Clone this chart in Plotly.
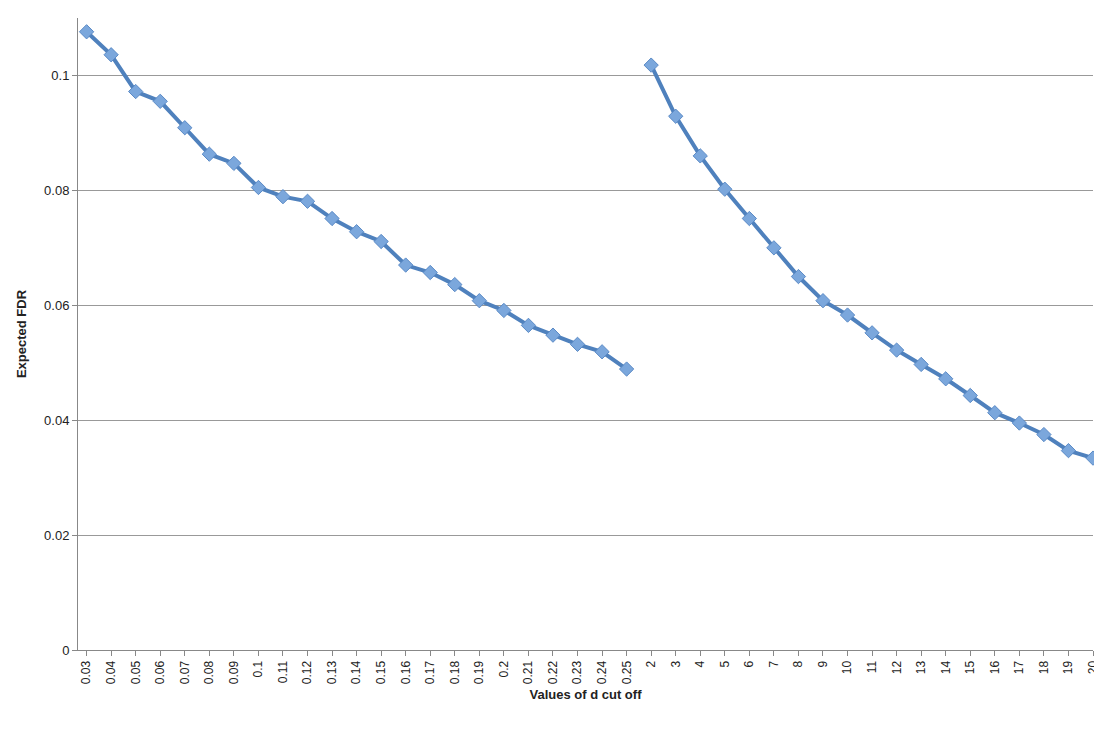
import plotly.graph_objects as go

# d cut off values, small range and large range
d_small = ["0.03", "0.04", "0.05", "0.06", "0.07", "0.08", "0.09", "0.1", "0.11", "0.12",
           "0.13", "0.14", "0.15", "0.16", "0.17", "0.18", "0.19", "0.2", "0.21", "0.22",
           "0.23", "0.24", "0.25"]
fdr_small = [0.1076, 0.1036, 0.0972, 0.0955, 0.0909, 0.0863, 0.0847, 0.0805, 0.0789, 0.0781,
             0.0751, 0.0728, 0.0711, 0.0670, 0.0657, 0.0636, 0.0608, 0.0591, 0.0565, 0.0548,
             0.0532, 0.0519, 0.0489]

d_large = [str(i) for i in range(2, 21)]
fdr_large = [0.1018, 0.0929, 0.0860, 0.0802, 0.0751, 0.0700, 0.0650, 0.0608, 0.0583, 0.0552,
             0.0522, 0.0497, 0.0472, 0.0443, 0.0413, 0.0395, 0.0375, 0.0347, 0.0334]

line_color = "#4f81bd"
marker_color = "#7ba7dc"

fig = go.Figure()
for xs, ys in [(d_small, fdr_small), (d_large, fdr_large)]:
    fig.add_trace(go.Scatter(
        x=xs, y=ys, mode="lines+markers",
        line=dict(color=line_color, width=4),
        marker=dict(symbol="diamond", size=11, color=marker_color,
                    line=dict(color="#5a8ac6", width=1)),
        showlegend=False, cliponaxis=False,
    ))

fig.update_xaxes(
    type="category", categoryorder="array", categoryarray=d_small + d_large,
    range=[-0.35, 41.0],
    tickangle=-90, tickfont=dict(size=12, family="Liberation Sans"),
    showline=True, linecolor="#888", ticks="outside", ticklen=5, tickcolor="#888",
    showgrid=False,
    title=dict(text="<b>Values of d cut off</b>", font=dict(size=13), standoff=6),
)
fig.update_yaxes(
    range=[0, 0.11], tickvals=[0, 0.02, 0.04, 0.06, 0.08, 0.1],
    ticktext=["0", "0.02", "0.04", "0.06", "0.08", "0.1"],
    showgrid=True, gridcolor="#999", gridwidth=1,
    showline=True, linecolor="#888", ticks="outside", ticklen=5, tickcolor="#888",
    tickfont=dict(size=13, family="Liberation Sans"), zeroline=False,
    title=dict(text="<b>Expected FDR</b>", font=dict(size=13), standoff=14),
)
fig.update_layout(
    width=1102, height=744, plot_bgcolor="white", paper_bgcolor="white",
    font=dict(family="Liberation Sans", color="#222"),
    margin=dict(l=70, r=10, t=10, b=102),
)

fig.write_html("out.html")
